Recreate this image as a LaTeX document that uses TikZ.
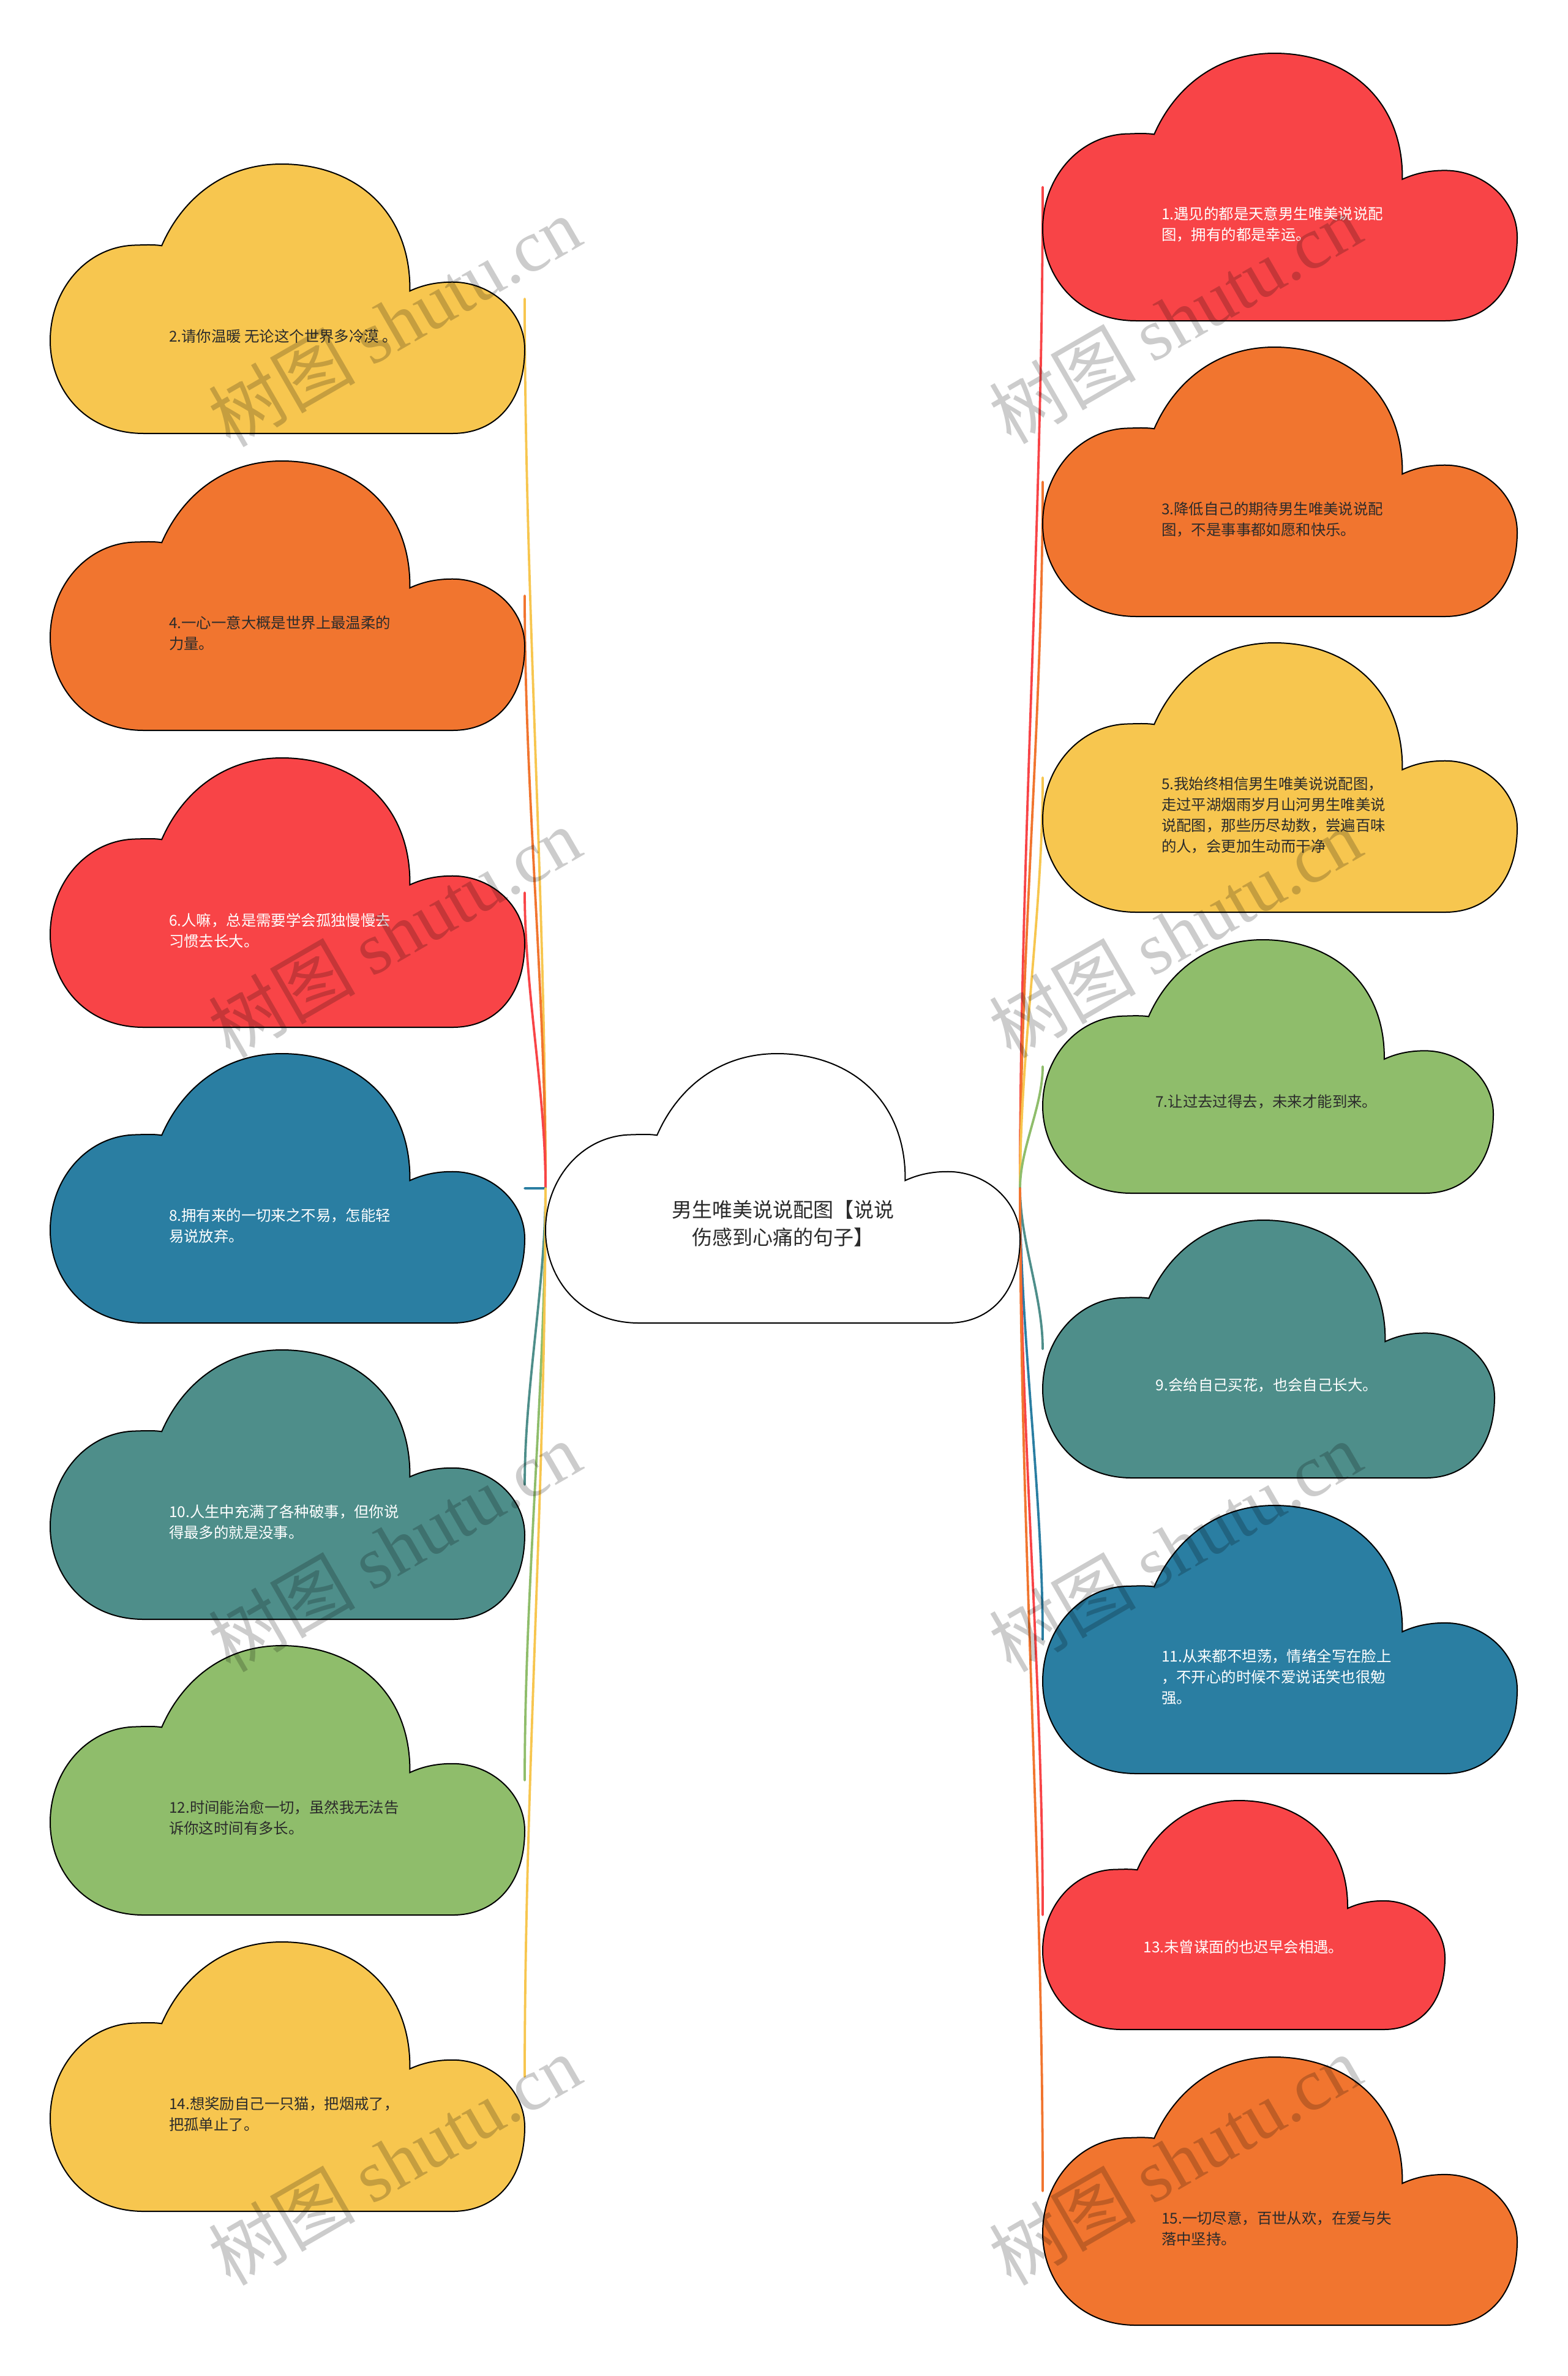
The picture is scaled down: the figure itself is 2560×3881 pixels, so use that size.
\documentclass[tikz,border=0pt]{standalone}
\usepackage{fontspec}
\setmainfont{Noto Sans CJK SC}
\newfontfamily\wmlatin{Liberation Serif}
\usetikzlibrary{calc}
\definecolor{cred}{HTML}{F84447}
\definecolor{corange}{HTML}{F1752F}
\definecolor{cyellow}{HTML}{F7C64F}
\definecolor{cgreen}{HTML}{8FBD6B}
\definecolor{cteal}{HTML}{4E8E8A}
\definecolor{cblue}{HTML}{2A7EA2}
\definecolor{cdark}{HTML}{2B2B2B}
\tikzset{
  cloudbox/.style={draw=none, inner sep=0pt, outer sep=0pt, rectangle},
  cloudshape/.style={draw=black, line width=1pt},
  cloudtext/.style={font={\fontsize{12.2pt}{17pt}\selectfont}, align=left, inner sep=0pt},
  centertext/.style={font={\fontsize{16.5pt}{22.5pt}\selectfont}, align=center, inner sep=0pt, text=cdark},
  conn/.style={line width=1.9pt, line cap=round},
  wm/.style={text=black, text opacity=0.2, font={\fontsize{60pt}{60pt}\selectfont}, inner sep=0pt},
}
% #1 name, #2 x0, #3 y0, #4 w, #5 h, #6 fill, #7 text colour, #8 text
\newcommand\mkcloud[8]{%
  \node[cloudbox, minimum width={#4*0.5pt}, minimum height={#5*0.5pt}, anchor=north west] (#1) at (#2,#3) {};
  \begin{scope}[shift={(#1.north west)}, x={({#4*0.5pt},0pt)}, y={(0pt,{-#5*0.5pt})}]
    \filldraw[cloudshape, fill=#6] (0.197,1) .. controls (0.07,1) and (0,0.83) .. (0,0.656)
      .. controls (0,0.46) and (0.08,0.301) .. (0.183,0.301)
      .. controls (0.21,0.299) and (0.225,0.300) .. (0.235,0.303)
      .. controls (0.275,0.14) and (0.36,0) .. (0.488,0)
      .. controls (0.64,0) and (0.76,0.17) .. (0.758,0.471)
      .. controls (0.79,0.445) and (0.82,0.438) .. (0.848,0.438)
      .. controls (0.93,0.438) and (1,0.55) .. (1,0.686)
      .. controls (1,0.88) and (0.94,1) .. (0.848,1) -- cycle;
  \end{scope}
  \if\relax\detokenize{#8}\relax\else
  \node[cloudtext, text=#7, anchor=west] (#1t) at ($(#1.north west)+({#4*0.25},{#5*0.64})$) {#8};
  \fi
}
\newcommand\mkconn[3]{%
  \draw[conn, draw=#3] (#1) .. controls ($(#1)!0.33!(#1|-#2)$) and ($(#2)!0.33!(#2|-#1)$) .. (#2);
}
\begin{document}
\begin{tikzpicture}[x=0.5pt, y=-0.5pt]
\useasboundingbox (0,0) rectangle (2560,3881);
\fill[white] (0,0) rectangle (2560,3881);

% centre cloud (bounding node only first, for connectors)
\node[cloudbox, minimum width={775*0.5pt}, minimum height={440*0.5pt}, anchor=north west] (ctrbox) at (891,1721) {};
\coordinate (hubL) at (ctrbox.west);
\coordinate (hubR) at (ctrbox.east);

% cloud bounding nodes (positions), connectors drawn first
\node[cloudbox, minimum width={775*0.5pt}, minimum height={440*0.5pt}, anchor=north west] (b2) at (82,268) {};
\node[cloudbox, minimum width={775*0.5pt}, minimum height={440*0.5pt}, anchor=north west] (b4) at (82,753) {};
\node[cloudbox, minimum width={775*0.5pt}, minimum height={440*0.5pt}, anchor=north west] (b6) at (82,1238) {};
\node[cloudbox, minimum width={775*0.5pt}, minimum height={440*0.5pt}, anchor=north west] (b8) at (82,1721) {};
\node[cloudbox, minimum width={775*0.5pt}, minimum height={440*0.5pt}, anchor=north west] (b10) at (82,2205) {};
\node[cloudbox, minimum width={775*0.5pt}, minimum height={440*0.5pt}, anchor=north west] (b12) at (82,2688) {};
\node[cloudbox, minimum width={775*0.5pt}, minimum height={440*0.5pt}, anchor=north west] (b14) at (82,3172) {};
\node[cloudbox, minimum width={775*0.5pt}, minimum height={437*0.5pt}, anchor=north west] (b1) at (1703,87) {};
\node[cloudbox, minimum width={775*0.5pt}, minimum height={440*0.5pt}, anchor=north west] (b3) at (1703,567) {};
\node[cloudbox, minimum width={775*0.5pt}, minimum height={440*0.5pt}, anchor=north west] (b5) at (1703,1050) {};
\node[cloudbox, minimum width={736*0.5pt}, minimum height={414*0.5pt}, anchor=north west] (b7) at (1703,1535) {};
\node[cloudbox, minimum width={738*0.5pt}, minimum height={421*0.5pt}, anchor=north west] (b9) at (1703,1993) {};
\node[cloudbox, minimum width={775*0.5pt}, minimum height={438*0.5pt}, anchor=north west] (b11) at (1703,2459) {};
\node[cloudbox, minimum width={657*0.5pt}, minimum height={374*0.5pt}, anchor=north west] (b13) at (1703,2941) {};
\node[cloudbox, minimum width={775*0.5pt}, minimum height={438*0.5pt}, anchor=north west] (b15) at (1703,3360) {};

% connectors
\mkconn{hubL}{b2.east}{cyellow}
\mkconn{hubL}{b4.east}{corange}
\mkconn{hubL}{b6.east}{cred}
\mkconn{hubL}{b8.east}{cblue}
\mkconn{hubL}{b10.east}{cteal}
\mkconn{hubL}{b12.east}{cgreen}
\mkconn{hubL}{b14.east}{cyellow}
\mkconn{hubR}{b1.west}{cred}
\mkconn{hubR}{b3.west}{corange}
\mkconn{hubR}{b5.west}{cyellow}
\mkconn{hubR}{b7.west}{cgreen}
\mkconn{hubR}{b9.west}{cteal}
\mkconn{hubR}{b11.west}{cblue}
\mkconn{hubR}{b13.west}{cred}
\mkconn{hubR}{b15.west}{corange}

% centre cloud
\mkcloud{ctr}{891}{1721}{775}{440}{white}{cdark}{}
\node[centertext] (ctrt) at ($(ctr.north west)+(387.5,277)$) {男生唯美说说配图【说说\\伤感到心痛的句子】};

% left clouds
\mkcloud{c2}{82}{268}{775}{440}{cyellow}{cdark}{2.请你温暖 无论这个世界多冷漠 。}
\mkcloud{c4}{82}{753}{775}{440}{corange}{cdark}{4.一心一意大概是世界上最温柔的\\力量。}
\mkcloud{c6}{82}{1238}{775}{440}{cred}{white}{6.人嘛，总是需要学会孤独慢慢去\\习惯去长大。}
\mkcloud{c8}{82}{1721}{775}{440}{cblue}{white}{8.拥有来的一切来之不易，怎能轻\\易说放弃。}
\mkcloud{c10}{82}{2205}{775}{440}{cteal}{white}{10.人生中充满了各种破事，但你说\\得最多的就是没事。}
\mkcloud{c12}{82}{2688}{775}{440}{cgreen}{cdark}{12.时间能治愈一切，虽然我无法告\\诉你这时间有多长。}
\mkcloud{c14}{82}{3172}{775}{440}{cyellow}{cdark}{14.想奖励自己一只猫，把烟戒了，\\把孤单止了。}

% right clouds
\mkcloud{c1}{1703}{87}{775}{437}{cred}{white}{1.遇见的都是天意男生唯美说说配\\图，拥有的都是幸运。}
\mkcloud{c3}{1703}{567}{775}{440}{corange}{cdark}{3.降低自己的期待男生唯美说说配\\图，不是事事都如愿和快乐。}
\mkcloud{c5}{1703}{1050}{775}{440}{cyellow}{cdark}{5.我始终相信男生唯美说说配图，\\走过平湖烟雨岁月山河男生唯美说\\说配图，那些历尽劫数，尝遍百味\\的人，会更加生动而干净}
\mkcloud{c7}{1703}{1535}{736}{414}{cgreen}{cdark}{7.让过去过得去，未来才能到来。}
\mkcloud{c9}{1703}{1993}{738}{421}{cteal}{white}{9.会给自己买花，也会自己长大。}
\mkcloud{c11}{1703}{2459}{775}{438}{cblue}{white}{11.从来都不坦荡，情绪全写在脸上\\，不开心的时候不爱说话笑也很勉\\强。}
\mkcloud{c13}{1703}{2941}{657}{374}{cred}{white}{13.未曾谋面的也迟早会相遇。}
\mkcloud{c15}{1703}{3360}{775}{438}{corange}{cdark}{15.一切尽意，百世从欢，在爱与失\\落中坚持。}

% watermarks
\node[wm, rotate=30] (wm1) at (644,525) {树图 {\wmlatin shutu.cn}};
\node[wm, rotate=30] (wm2) at (1919,520) {树图 {\wmlatin shutu.cn}};
\node[wm, rotate=30] (wm3) at (644,1523) {树图 {\wmlatin shutu.cn}};
\node[wm, rotate=30] (wm4) at (1919,1523) {树图 {\wmlatin shutu.cn}};
\node[wm, rotate=30] (wm5) at (644,2526) {树图 {\wmlatin shutu.cn}};
\node[wm, rotate=30] (wm6) at (1919,2526) {树图 {\wmlatin shutu.cn}};
\node[wm, rotate=30] (wm7) at (644,3528) {树图 {\wmlatin shutu.cn}};
\node[wm, rotate=30] (wm8) at (1919,3528) {树图 {\wmlatin shutu.cn}};
\end{tikzpicture}
\end{document}
